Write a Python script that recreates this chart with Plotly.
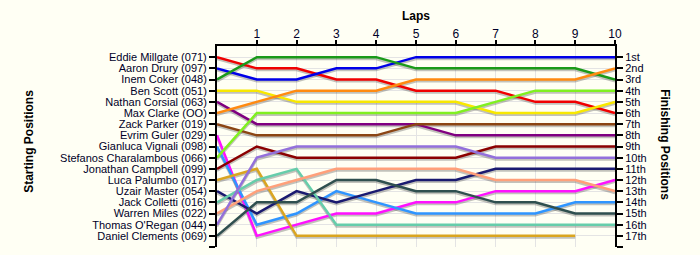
import plotly.graph_objects as go

laps = list(range(11))
lap_labels = [str(i) for i in range(1, 11)]

drivers = ["Eddie Millgate (071)", "Aaron Drury (097)", "Inem Coker (048)", "Ben Scott (051)",
           "Nathan Corsial (063)", "Max Clarke (OO)", "Zack Parker (019)", "Evrim Guler (029)",
           "Gianluca Vignali (098)", "Stefanos Charalambous (066)", "Jonathan Campbell (099)",
           "Luca Palumbo (017)", "Uzair Master (054)", "Jack Colletti (016)", "Warren Miles (022)",
           "Thomas O'Regan (044)", "Daniel Clements (069)"]

eddie = [1, 2, 2, 3, 3, 4, 4, 4, 5, 5, 6]
aaron = [2, 3, 3, 2, 2, 1, 1, 1, 1, 1, 1]
inem = [3, 1, 1, 1, 1, 2, 2, 2, 2, 2, 3]
ben = [4, 4, 5, 5, 5, 5, 5, 6, 6, 6, 5]
nathan = [5, 7, 7, 7, 7, 7, 8, 8, 8, 8, 8]
max_c = [6, 5, 4, 4, 4, 3, 3, 3, 3, 3, 2]
zack = [7, 8, 8, 8, 8, 7, 7, 7, 7, 7, 7]
evrim = [8, 17, 16, 15, 15, 14, 14, 13, 13, 13, 12]
gianluca = [9, 16, 15, 13, 14, 15, 15, 15, 15, 14, 14]
stefanos = [10, 6, 6, 6, 6, 6, 6, 5, 4, 4, 4]
jonathan = [11, 9, 10, 10, 10, 10, 10, 9, 9, 9, 9]
luca = [12, 11, 17, 17, 17, 17, 17, 17, 17, 17, None]
uzair = [13, 15, 13, 14, 13, 12, 12, 11, 11, 11, 11]
jack = [14, 12, 11, 16, 16, 16, 16, 16, 16, 16, 16]
warren = [15, 13, 12, 11, 11, 11, 11, 12, 12, 12, 13]
thomas = [16, 10, 9, 9, 9, 9, 9, 10, 10, 10, 10]
daniel = [17, 14, 14, 12, 12, 13, 13, 14, 14, 15, 15]

series = [eddie, aaron, inem, ben, nathan, max_c, zack, evrim, gianluca, stefanos,
          jonathan, luca, uzair, jack, warren, thomas, daniel]

colors = ["#f00000", "#0000e8", "#1a9a1a", "#f8e800", "#800080", "#ff8a10", "#8b4513",
          "#ff10ff", "#2f95ff", "#80f020", "#8b0000", "#daa520", "#1a1a70", "#66cdaa",
          "#ffa07a", "#9370db", "#2f4f4f"]

finish_labels = ["1st", "2nd", "3rd"] + [f"{i}th" for i in range(4, 18)]

fig = go.Figure()

# shadows (base axes, slightly shifted range)
for name, ys in zip(drivers, series):
    fig.add_trace(go.Scatter(x=laps, y=ys, mode="lines", xaxis="x", yaxis="y",
                             line=dict(color="rgba(80,80,80,0.35)", width=2.5),
                             hoverinfo="skip", showlegend=False))
# main lines
for name, ys, c in zip(drivers, series, colors):
    fig.add_trace(go.Scatter(x=laps, y=ys, mode="lines", name=name, xaxis="x", yaxis="y2",
                             line=dict(color=c, width=2.5), showlegend=False))
fig.add_trace(go.Scatter(x=[], y=[], xaxis="x", yaxis="y3", showlegend=False))

txt = "#000028"
font = dict(family="Liberation Sans, Arial, sans-serif", size=11, color=txt)
tfont = dict(family="Liberation Sans, Arial, sans-serif", size=12, color="#000")
shift = 0.16
fig.update_layout(
    width=700, height=255,
    margin=dict(l=217, r=85, t=45.5, b=8),
    paper_bgcolor="#fffff4", plot_bgcolor="#fffff4",
    font=font,
    xaxis=dict(side="top", range=[0, 10], tickvals=list(range(1, 11)), ticktext=lap_labels,
               ticks="outside", ticklen=4, tickcolor="#000", tickwidth=1.5,
               ticklabelstandoff=-3,
               showline=True, linecolor="#000", linewidth=2,
               showgrid=True, gridcolor="#e4e4e4", gridwidth=1, zeroline=False,
               tickfont=dict(family="Liberation Sans, Arial, sans-serif", size=12, color=txt)),
    yaxis=dict(range=[18 - shift, -shift], visible=False, showgrid=False, zeroline=False),
    yaxis2=dict(overlaying="y", side="left", range=[18, 0],
                tickvals=list(range(1, 19)), ticktext=drivers + [""],
                ticks="outside", ticklen=6, tickcolor="#000", tickwidth=1.5,
                showline=True, linecolor="#000", linewidth=2,
                showgrid=True, gridcolor="#e4e4e4", gridwidth=1, zeroline=False,
                tickfont=font),
    yaxis3=dict(overlaying="y", side="right", anchor="x", range=[18, 0],
                tickvals=list(range(1, 19)), ticktext=finish_labels + [""],
                ticks="outside", ticklen=6, tickcolor="#000", tickwidth=1.5,
                showline=True, linecolor="#000", linewidth=2,
                showgrid=False, zeroline=False, tickfont=font),
    annotations=[
        dict(text="<b>Laps</b>", xref="paper", yref="paper", x=0.5, y=1.151,
             xanchor="center", yanchor="middle", showarrow=False, font=tfont),
        dict(text="<b>Starting Positions</b>", xref="paper", yref="paper", x=-0.472, y=0.524,
             xanchor="center", yanchor="middle", textangle=-90, showarrow=False, font=tfont),
        dict(text="<b>Finishing Positions</b>", xref="paper", yref="paper", x=1.124, y=0.51,
             xanchor="center", yanchor="middle", textangle=90, showarrow=False, font=tfont),
    ],
)

fig.write_html("out.html")
